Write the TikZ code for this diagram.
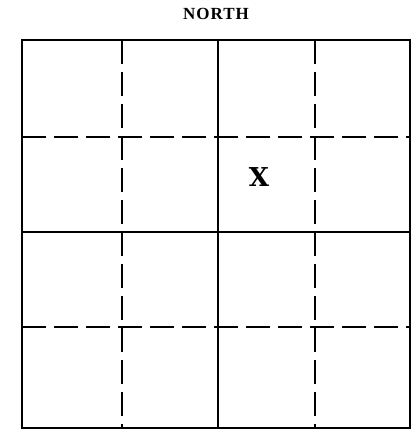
\documentclass[tikz,border=0pt]{standalone}
\usepackage{fontspec}
\setmainfont{Liberation Serif}
\newfontfamily\markfont{DejaVu Serif}
\usetikzlibrary{positioning}
\begin{document}
\begin{tikzpicture}[
    x=1pt, y=-1pt,
    frame/.style = {rectangle, draw, line width=2.6pt, minimum width=388pt, minimum height=388pt, inner sep=0pt},
    major/.style = {draw, line width=1.8pt},
    minor/.style = {draw, line width=1.8pt, dash pattern=on 24pt off 8pt},
    heading/.style = {font=\fontsize{17}{19}\selectfont\bfseries\addfontfeature{LetterSpace=6}, inner sep=0pt},
    marker/.style = {font=\fontsize{26}{28}\selectfont\markfont\bfseries, inner sep=0pt}
]
    \useasboundingbox (0,0) rectangle (411,443);
    \node [frame] (plot) at (216,234) {};
    \node [heading, above=19pt of plot] (north) {NORTH};

    % quarter lines
    \draw [minor] (122,40) -- (122,428);
    \draw [minor] (315,40) -- (315,428);
    \draw [minor] (22,137) -- (410,137);
    \draw [minor] (22,327) -- (410,327);
    % half lines
    \draw [major] (218,40) -- (218,428);
    \draw [major] (22,232) -- (410,232);

    \node [marker] (spot) at (259,177) {X};
\end{tikzpicture}
\end{document}
